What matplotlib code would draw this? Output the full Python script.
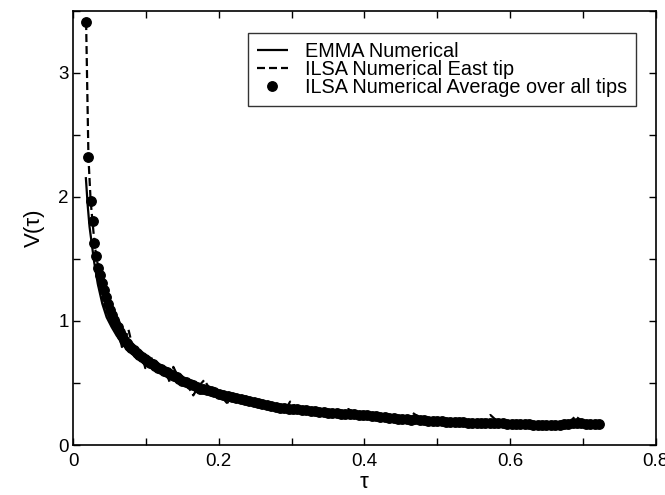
import matplotlib
matplotlib.use("Agg")
import matplotlib.pyplot as plt
from matplotlib.ticker import MultipleLocator

plt.rcParams['font.family'] = ['Liberation Sans', 'DejaVu Sans']

# ILSA Numerical Average over all tips (dots)
tau_avg = [0.0178, 0.0210, 0.0240, 0.0266, 0.0293, 0.0320, 0.0345, 0.0370, 0.0398, 0.0425,
           0.0450, 0.0475, 0.0500, 0.0530, 0.0555, 0.0580, 0.0610, 0.0640, 0.0670, 0.0700,
           0.0735, 0.0770, 0.0800, 0.0830, 0.0870, 0.0900, 0.0940, 0.0980, 0.1010, 0.1050,
           0.1090, 0.1130, 0.1170, 0.1210, 0.1250, 0.1290, 0.1330, 0.1380, 0.1420, 0.1460,
           0.1500, 0.1550, 0.1600, 0.1650, 0.1700, 0.1740, 0.1790, 0.1840, 0.1890, 0.1940,
           0.2000, 0.2060, 0.2120, 0.2180, 0.2240, 0.2300, 0.2360, 0.2420, 0.2480, 0.2540,
           0.2600, 0.2660, 0.2720, 0.2780, 0.2840, 0.2900, 0.2960, 0.3020, 0.3080, 0.3140,
           0.3200, 0.3260, 0.3320, 0.3380, 0.3440, 0.3500, 0.3560, 0.3620, 0.3680, 0.3740,
           0.3800, 0.3860, 0.3920, 0.3980, 0.4040, 0.4100, 0.4160, 0.4220, 0.4280, 0.4340,
           0.4400, 0.4460, 0.4520, 0.4580, 0.4640, 0.4700, 0.4760, 0.4820, 0.4880, 0.4940,
           0.5000, 0.5060, 0.5120, 0.5180, 0.5240, 0.5300, 0.5360, 0.5420, 0.5480, 0.5540,
           0.5600, 0.5660, 0.5720, 0.5780, 0.5840, 0.5900, 0.5960, 0.6020, 0.6080, 0.6140,
           0.6200, 0.6260, 0.6320, 0.6380, 0.6440, 0.6500, 0.6560, 0.6620, 0.6680, 0.6740,
           0.6800, 0.6860, 0.6920, 0.6980, 0.7040, 0.7100, 0.7160, 0.7220]
v_avg = [3.41, 2.32, 1.97, 1.81, 1.63, 1.52, 1.43, 1.37, 1.31, 1.25,
         1.19, 1.14, 1.09, 1.05, 1.01, 0.98, 0.95, 0.91, 0.88, 0.85,
         0.82, 0.800, 0.785, 0.765, 0.745, 0.725, 0.710, 0.695, 0.680, 0.665,
         0.650, 0.635, 0.620, 0.610, 0.595, 0.585, 0.570, 0.560, 0.545, 0.535,
         0.520, 0.510, 0.495, 0.480, 0.465, 0.455, 0.448, 0.440, 0.432, 0.424,
         0.415, 0.405, 0.395, 0.385, 0.376, 0.368, 0.360, 0.352, 0.345, 0.337,
         0.330, 0.322, 0.315, 0.308, 0.302, 0.297, 0.293, 0.290, 0.287, 0.283,
         0.279, 0.275, 0.272, 0.269, 0.266, 0.262, 0.259, 0.256, 0.253, 0.251,
         0.249, 0.247, 0.244, 0.241, 0.238, 0.234, 0.231, 0.227, 0.223, 0.219,
         0.216, 0.213, 0.210, 0.207, 0.205, 0.208, 0.204, 0.200, 0.197, 0.194,
         0.192, 0.190, 0.188, 0.186, 0.184, 0.183, 0.182, 0.180, 0.179, 0.178,
         0.178, 0.178, 0.180, 0.179, 0.177, 0.175, 0.173, 0.171, 0.170, 0.168,
         0.167, 0.166, 0.165, 0.165, 0.164, 0.164, 0.163, 0.163, 0.163, 0.166,
         0.172, 0.178, 0.180, 0.176, 0.172, 0.170, 0.172, 0.172]

# EMMA Numerical (solid line)
tau_emma = [0.0174, 0.0200, 0.0225, 0.0256, 0.0290, 0.0338, 0.0400, 0.0460, 0.0530, 0.0600,
            0.0700, 0.0800, 0.0900, 0.1000, 0.1200, 0.1400, 0.1600, 0.1800, 0.2000, 0.2500,
            0.3000, 0.3500, 0.4000, 0.4500, 0.5000, 0.5500, 0.6000, 0.6500, 0.7000, 0.7200]
v_emma = [2.16, 1.93, 1.76, 1.62, 1.47, 1.30, 1.14, 1.03, 0.95, 0.88,
          0.80, 0.74, 0.69, 0.655, 0.585, 0.535, 0.485, 0.440, 0.405, 0.335,
          0.290, 0.258, 0.235, 0.212, 0.193, 0.180, 0.172, 0.165, 0.168, 0.170]

# ILSA Numerical East tip (dashed line)
tau_east = [0.0178, 0.0210, 0.0240, 0.0266, 0.0293, 0.032, 0.035, 0.040, 0.045, 0.050,
            0.056, 0.062, 0.067, 0.0715, 0.076, 0.082, 0.090, 0.096, 0.099, 0.1056,
            0.112, 0.120, 0.128, 0.133, 0.1376, 0.145, 0.155, 0.165, 0.172, 0.180,
            0.190, 0.200, 0.211, 0.225, 0.238, 0.250, 0.265, 0.280, 0.290, 0.298,
            0.310, 0.330, 0.350, 0.370, 0.378, 0.390, 0.410, 0.430, 0.450, 0.460,
            0.466, 0.480, 0.500, 0.530, 0.555, 0.565, 0.573, 0.585, 0.610, 0.640,
            0.665, 0.680, 0.689, 0.700, 0.712, 0.722]
v_east = [3.41, 2.32, 1.97, 1.80, 1.63, 1.51, 1.42, 1.30, 1.19, 1.09,
          1.00, 0.93, 0.79, 0.86, 0.93, 0.78, 0.73, 0.70, 0.62, 0.726,
          0.64, 0.61, 0.58, 0.50, 0.63, 0.54, 0.50, 0.40, 0.47, 0.524,
          0.43, 0.415, 0.34, 0.375, 0.39, 0.343, 0.322, 0.305, 0.27, 0.35,
          0.285, 0.27, 0.258, 0.23, 0.29, 0.244, 0.233, 0.22, 0.212, 0.20,
          0.26, 0.204, 0.192, 0.183, 0.178, 0.17, 0.242, 0.178, 0.17, 0.165,
          0.163, 0.155, 0.234, 0.19, 0.17, 0.172]

x_ticks = [0, 0.2, 0.4, 0.6, 0.8]
x_ticklabels = ['0', '0.2', '0.4', '0.6', '0.8']
y_ticks = [0, 1, 2, 3]
y_ticklabels = ['0', '1', '2', '3']

fig = plt.figure(figsize=(6.65, 4.95), dpi=100)
ax = fig.add_axes([0.110, 0.101, 0.876, 0.877])

ax.plot(tau_emma, v_emma, color='black', lw=1.6, solid_capstyle='butt',
        label='EMMA Numerical')
ax.plot(tau_east, v_east, color='black', lw=1.6, linestyle=(0, (3.6, 1.8)),
        label='ILSA Numerical East tip')
ax.plot(tau_avg, v_avg, linestyle='none', marker='o', markersize=6.8,
        color='black', label='ILSA Numerical Average over all tips')

ax.set_xlim(0, 0.8)
ax.set_ylim(0, 3.5)
ax.set_xticks(x_ticks)
ax.set_xticklabels(x_ticklabels)
ax.set_yticks(y_ticks)
ax.set_yticklabels(y_ticklabels)
ax.xaxis.set_minor_locator(MultipleLocator(0.1))
ax.yaxis.set_minor_locator(MultipleLocator(0.5))
ax.tick_params(which='both', direction='in', top=True, right=True,
               length=5, width=1.0, labelsize=13.5)
ax.tick_params(axis='x', pad=6)
ax.tick_params(axis='y', pad=3)
for s in ax.spines.values():
    s.set_linewidth(1.2)

ax.set_xlabel('τ', fontsize=16, labelpad=1)
ax.set_ylabel('V(τ)', fontsize=16, labelpad=10)

leg = ax.legend(loc='upper right', bbox_to_anchor=(0.967, 0.949), fontsize=14.3,
                frameon=True, fancybox=False, edgecolor='black',
                handlelength=1.55, labelspacing=-0.06, borderpad=0.45,
                handletextpad=0.9, borderaxespad=0)
leg.get_frame().set_linewidth(1.0)

fig.savefig('out.png', dpi=100)
